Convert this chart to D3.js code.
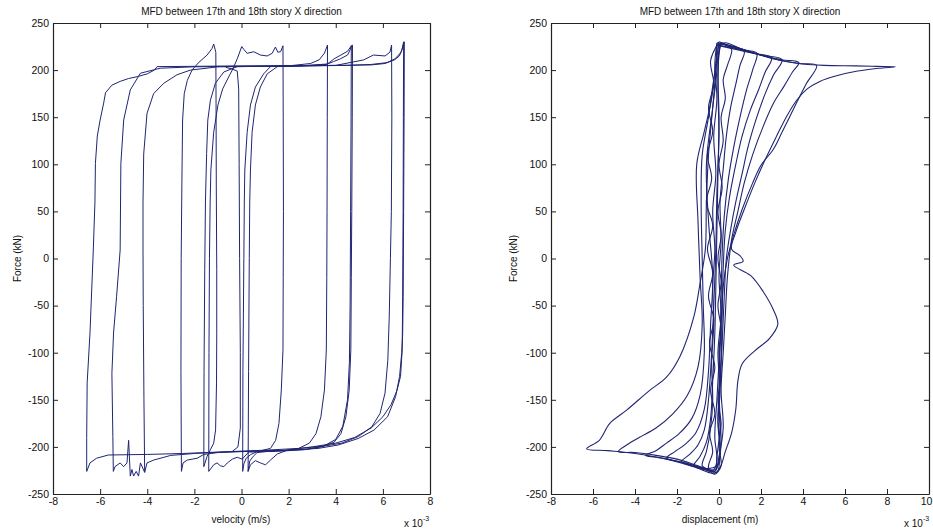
<!DOCTYPE html>
<html><head><meta charset="utf-8">
<script src="https://cdn.jsdelivr.net/npm/d3@7"></script>
<style>
body{margin:0;background:#fff}
text{font-family:"Liberation Sans",Arial,Helvetica,sans-serif;fill:#111}
</style>
</head><body>
<svg id="chart" width="933" height="531"></svg>
<script>
// ---------- text ----------
const titleText = "MFD between 17th and 18th story X direction";
const yLabelText = "Force (kN)";
const velLabelText = "velocity (m/s)";
const dispLabelText = "displacement (m)";
const multiplierBase = "x 10";
const multiplierExp = "-3";

// ---------- ticks ----------
const forceTicks = [-250, -200, -150, -100, -50, 0, 50, 100, 150, 200, 250];
const velTicks = [-8, -6, -4, -2, 0, 2, 4, 6, 8];
const dispTicks = [-8, -6, -4, -2, 0, 2, 4, 6, 8, 10];

// ---------- LEFT: force vs velocity (x 1e-3 m/s, kN) ----------
const velLoop1 = [[-1.0,-205.5],[-2.5,-207],[-4.0,-208],[-5.65,-208.6],[-6.15,-212],[-6.43,-217],[-6.57,-226],
 [-6.57,-190],[-6.55,-132],[-6.43,-79],[-6.29,9],[-6.22,60],[-6.2,101],[-6.12,130],[-6.0,147],[-5.85,165],[-5.77,176],[-5.5,184],[-5.15,188],[-4.8,191],[-4.43,193],[-4.0,196],[-3.7,200],[-3.58,203.7],[-2,204],[0,204.5],[2,204.5],[4,205],[5.5,205.5],[6.09,207],[6.52,212],[6.77,219],[6.88,228],[6.91,230],
 [6.9,150],[6.88,50],[6.86,-40],[6.84,-80],[6.8,-100],[6.71,-125],[6.54,-146.6],[6.2,-168],[5.63,-182],[4.96,-191],[4.1,-198],[3.25,-201.6],[2.0,-203.5],[0.5,-204.5],[-1.0,-205.5]];
const velLoop2 = [[-5.44,-226],[-5.46,-189],[-5.5,-122],[-5.43,-79],[-5.3,-40],[-5.15,9],[-5.12,101],[-5.0,147],[-4.72,179],[-4.29,196.7],[-3.45,202],[-2,203.5],[0,204],[2,204.5],[4,205],[5.18,210.8],[5.6,216],[6.09,215],[6.3,219],[6.37,226.6],
 [6.38,150],[6.36,50],[6.32,0],[6.27,-62],[6.21,-108],[6.09,-143],[5.88,-164.5],[5.53,-178.6],[4.96,-189],[4.25,-196],[3.54,-199],[2.5,-201.5],[1.0,-203.5],[-0.5,-205],[-2.0,-207],[-3.0,-209],[-3.73,-214],[-4.01,-217],[-4.11,-227],[-4.29,-217],[-4.37,-231],[-4.47,-226],[-4.58,-231],[-4.65,-224],[-4.72,-231],[-4.79,-193],[-4.86,-217],[-5.0,-221],[-5.15,-217],[-5.37,-221],[-5.44,-226]];
const velLoop3 = [[-4.11,-227],[-4.14,-150],[-4.17,-50],[-4.18,9],[-4.18,60],[-4.15,111],[-4.01,154],[-3.73,175],[-3.3,186],[-2.74,195],[-2.17,200],[-1,203.5],[1,204],[2.5,204.5],[3.65,206.5],[3.93,212],[4.22,216],[4.5,220],[4.64,225],[4.71,226.5],
 [4.7,150],[4.68,50],[4.66,-20],[4.64,-97],[4.57,-140],[4.43,-168],[4.22,-186],[3.93,-195],[3.37,-200],[2.65,-203],[1.5,-204],[0,-205],[-1.0,-206],[-1.6,-208],[-1.88,-212],[-2.3,-214],[-2.48,-217],[-2.55,-226]];
const velLoop4 = [[-2.55,-226],[-2.57,-120],[-2.56,0],[-2.53,80],[-2.5,147],[-2.43,175],[-2.3,189],[-2.1,200],[-1.82,208],[-1.46,216],[-1.25,223],[-1.18,227.7],[-1.09,219],[-1.08,164.7],[-1.07,76],[-1.05,-12],[-1.05,-80],[-1.06,-132],[-1.1,-182],[-1.18,-196],[-1.32,-203],[-1.46,-210],[-1.6,-221]];
const velLoop5 = [[-1.6,-221],[-1.59,-120],[-1.56,-12],[-1.53,60],[-1.48,111.6],[-1.43,147],[-1.32,168],[-1.11,186],[-0.75,198],[-0.18,203.7],[1,204],[2.0,204.5],[2.93,207],[3.3,211],[3.52,218],[3.65,226.6],
 [3.64,150],[3.63,50],[3.62,-20],[3.6,-97],[3.52,-139.5],[3.37,-168],[3.16,-186],[2.88,-196],[2.39,-202],[1.8,-204],[1.0,-205],[0.3,-205.5],[0.03,-213],[-0.18,-211],[-0.39,-213],[-0.6,-217],[-0.75,-221],[-0.9,-220],[-1.04,-217],[-1.18,-219],[-1.39,-226]];
const velLoop6 = [[-1.39,-226],[-1.38,-100],[-1.36,0],[-1.33,60],[-1.3,94],[-1.18,134],[-1.0,163],[-0.8,180],[-0.5,195],[-0.39,200],[-0.18,212],[0.01,225],[0.1,222],[0.24,217.8],[0.52,219.5],[0.8,216],[1.09,215],[1.3,217.8],[1.44,224.5],[1.54,219],[1.66,219.5],[1.76,225.8],
 [1.77,150],[1.78,50],[1.77,-20],[1.76,-97],[1.69,-139.5],[1.59,-175],[1.45,-193],[1.23,-201.6],[0.66,-205],[0.4,-208],[0.2,-212],[0.1,-218],[0.05,-226]];
const velLoop7 = [[0.05,-226],[0.06,-120],[0.1,0],[0.12,60],[0.14,94],[0.24,134],[0.38,163],[0.59,182],[0.94,196],[1.23,203.7],[2,204.5],[3.0,205],[3.6,206],[3.9,209],[4.2,212],[4.5,216],[4.62,222],[4.66,226],
 [4.65,150],[4.63,50],[4.61,-50],[4.58,-110],[4.5,-150],[4.3,-178],[4.0,-192],[3.5,-199],[2.8,-202.5],[2.0,-204],[1.0,-205],[0.66,-206],[0.5,-210],[0.35,-215],[0.28,-226]];
const velLoop8 = [[0.28,-226],[0.3,-120],[0.33,0],[0.35,60],[0.38,94],[0.45,134],[0.59,163],[0.8,182],[1.09,196],[1.52,203.7],[3,204.5],[4.5,205],[5.5,206],[6.2,208],[6.5,211],[6.7,215],[6.82,222],[6.88,230],
 [6.87,150],[6.86,50],[6.84,-40],[6.82,-97],[6.75,-125],[6.6,-140],[6.35,-155],[6.0,-168],[5.5,-180],[4.8,-190],[4.0,-196],[3.0,-200],[2.0,-203],[1.52,-207.5],[1.23,-214],[1.02,-219],[0.8,-217],[0.59,-214.6],[0.38,-219],[0.28,-226]];
const velLoop9 = [[-0.67,203],[-0.39,201],[-0.18,199],[-0.12,180],[-0.1,100],[-0.08,0],[-0.05,-100],[-0.05,-180],[-0.15,-200],[-0.4,-205]];
const velocityLoops = [velLoop1, velLoop2, velLoop3, velLoop4, velLoop5, velLoop6, velLoop7, velLoop8, velLoop9];

// ---------- RIGHT: force vs displacement (x 1e-3 m, kN) ----------
const dispLoop1 = [[-0.1,226],[0.3,229],[1,223],[2,216],[3,210],[4,206.5],[5,205],[6.5,204.5],[7.5,204],[8.4,203.5],[7.6,202],[6.6,199],[5.6,194],[4.8,188],[4.2,180],[3.7,168],[3.2,150],[2.7,128],[2.2,105],[1.7,80],[1.2,52],[0.8,28],[0.6,10],[1.0,3],[1.15,-3],[0.7,-7],[1.5,-18],[2.1,-35],[2.6,-55],[2.8,-70],[2.4,-85],[1.7,-98],[1.1,-112],[0.9,-130],[0.8,-160],[0.6,-185],[0.3,-205],[0.05,-222],[-0.2,-228],[-1.2,-221],[-2.5,-213],[-4,-207],[-5.3,-204],[-6.3,-202],[-5.7,-193],[-5.2,-175],[-4.4,-161],[-3.3,-140],[-2.5,-126],[-1.86,-104],[-1.2,-62],[-0.9,-26],[-0.65,10],[-0.6,60],[-0.5,110],[-0.3,160],[-0.15,200],[-0.1,226]];
const dispLoop2 = [[0,228],[0.8,224],[1.8,217],[2.8,211],[3.8,207],[4.65,205],[4.17,186],[3.8,170],[3.38,151],[3.0,134],[2.59,116],[2.0,99],[1.6,80],[1.1,52],[0.7,25],[0.4,0],[0.2,-30],[0.1,-70],[0.0,-110],[-0.1,-150],[-0.2,-190],[-0.1,-215],[-0.3,-225],[-1,-220],[-2,-213],[-3,-209],[-4,-206],[-4.8,-205],[-4.4,-198],[-3.8,-190],[-3.0,-180],[-2.2,-165],[-1.5,-145],[-1.0,-115],[-0.8,-70],[-0.9,-20],[-1.0,40],[-1.06,100],[-0.7,135],[-0.35,170],[-0.15,208],[0,228]];
const dispLoop3 = [[0.1,229],[1,223],[2,216],[3,211],[3.8,208],[3.5,198],[3.1,183],[2.6,165],[2.1,140],[1.6,110],[1.2,80],[0.9,50],[0.6,20],[0.4,-20],[0.3,-60],[0.2,-100],[0.1,-140],[0.2,-180],[0.0,-210],[-0.2,-226],[-1,-221],[-2,-215],[-3,-211],[-3.5,-209],[-3.0,-204],[-2.5,-196],[-1.9,-186],[-1.3,-170],[-0.9,-145],[-0.7,-100],[-0.75,-50],[-0.8,0],[-0.85,60],[-0.8,110],[-0.5,150],[-0.25,190],[0.1,229]];
const dispLoop4 = [[-0.1,227],[1,222],[2,216],[3,211],[2.6,195],[2.2,175],[1.8,150],[1.4,120],[1.1,90],[0.8,60],[0.55,30],[0.35,0],[0.25,-40],[0.15,-90],[0.05,-130],[-0.05,-170],[0.05,-200],[-0.15,-224],[-0.8,-222],[-1.6,-217],[-2.5,-212],[-2.1,-205],[-1.6,-197],[-1.1,-185],[-0.7,-160],[-0.5,-120],[-0.4,-70],[-0.3,-20],[-0.5,40],[-0.6,100],[-0.3,160],[-0.1,200],[-0.1,227]];
const dispLoop5 = [[0,226],[0.8,222],[1.6,218],[2.5,213],[2.2,198],[1.9,180],[1.5,158],[1.1,130],[0.8,100],[0.5,65],[0.3,30],[0.2,-10],[0.15,-60],[0.1,-110],[0.0,-160],[0.1,-195],[-0.1,-220],[-0.6,-223],[-1.2,-220],[-1.8,-216],[-1.4,-208],[-1.0,-198],[-0.7,-182],[-0.5,-150],[-0.35,-100],[-0.25,-50],[-0.15,10],[-0.1,70],[0.0,130],[-0.05,180],[0,226]];
const dispLoop6 = [[0.05,228],[0.7,225],[1.3,221],[1.8,218],[1.6,200],[1.3,178],[1.0,150],[0.7,118],[0.45,85],[0.25,45],[0.15,5],[0.1,-45],[0.05,-95],[0.0,-140],[0.05,-180],[-0.1,-210],[-0.2,-226],[-0.7,-224],[-1.2,-220],[-0.9,-210],[-0.6,-195],[-0.4,-170],[-0.3,-130],[-0.2,-80],[-0.15,-30],[-0.1,30],[-0.05,90],[0.0,150],[-0.05,200],[0.05,228]];
const dispLoop7 = [[-0.1,229],[0.4,226],[0.8,223],[1.2,220],[1.0,205],[0.8,185],[0.55,160],[0.35,130],[0.2,95],[0.05,60],[0.1,20],[0.0,-20],[0.1,-60],[-0.05,-100],[0.05,-140],[-0.05,-175],[0.05,-205],[-0.1,-227],[-0.5,-224],[-0.8,-220],[-0.6,-205],[-0.4,-180],[-0.3,-150],[-0.35,-110],[-0.25,-70],[-0.3,-30],[-0.2,10],[-0.3,50],[-0.15,90],[-0.25,130],[-0.1,170],[-0.2,205],[-0.1,229]];
const dispLoop8 = [[0,230],[0.3,227],[0.6,222],[0.4,205],[0.2,190],[0.3,170],[0.1,150],[0.2,125],[0.0,100],[0.15,75],[-0.05,50],[0.1,25],[-0.05,0],[0.1,-25],[-0.05,-50],[0.1,-75],[0.0,-100],[0.1,-125],[-0.05,-150],[0.1,-175],[0.0,-200],[0.1,-220],[-0.2,-229],[-0.5,-222],[-0.3,-205],[-0.45,-185],[-0.2,-165],[-0.4,-140],[-0.2,-115],[-0.45,-90],[-0.25,-65],[-0.5,-40],[-0.3,-15],[-0.55,10],[-0.3,35],[-0.6,60],[-0.35,85],[-0.55,110],[-0.3,135],[-0.5,160],[-0.25,185],[-0.4,210],[0,230]];
const displacementLoops = [dispLoop1, dispLoop2, dispLoop3, dispLoop4, dispLoop5, dispLoop6, dispLoop7, dispLoop8];

// ---------- drawing ----------
const svg = d3.select("#chart");
const lineColor = "#1f2572";

function drawPanel(opts) {
  const g = svg.append("g");
  const x = d3.scaleLinear().domain(opts.xDomain).range([opts.left, opts.right]);
  const y = d3.scaleLinear().domain([-250, 250]).range([opts.bottom, opts.top]);

  const clipId = "clip" + opts.id;
  svg.append("clipPath").attr("id", clipId).append("rect")
    .attr("x", opts.left).attr("y", opts.top)
    .attr("width", opts.right - opts.left).attr("height", opts.bottom - opts.top);
  const line = d3.line().x(d => x(d[0])).y(d => y(d[1])).curve(opts.curve);
  g.append("g").attr("clip-path", `url(#${clipId})`)
    .selectAll("path").data(opts.series).join("path")
    .attr("d", line).attr("fill", "none")
    .attr("stroke", lineColor).attr("stroke-width", opts.sw)
    .attr("stroke-linejoin", "round");

  const fmt = d => String(d);
  const axB = d3.axisBottom(x).tickValues(opts.xTicks).tickSize(-5).tickSizeOuter(0).tickPadding(4).tickFormat(fmt);
  const axT = d3.axisTop(x).tickValues(opts.xTicks).tickSize(-5).tickSizeOuter(0).tickFormat("");
  const axL = d3.axisLeft(y).tickValues(forceTicks).tickSize(-5).tickSizeOuter(0).tickPadding(4).tickFormat(fmt);
  const axR = d3.axisRight(y).tickValues(forceTicks).tickSize(-5).tickSizeOuter(0).tickFormat("");

  const styleAxis = sel => {
    sel.selectAll("path.domain").attr("stroke", "#222").attr("stroke-width", 1.2);
    sel.selectAll(".tick line").attr("stroke", "#222");
    sel.selectAll(".tick text").attr("fill", "#111").style("font-size", "10.5px")
      .style("font-family", "'Liberation Sans', Arial, sans-serif");
  };
  const bottomAxis = g.append("g").attr("transform", `translate(0,${opts.bottom})`).call(axB).call(styleAxis);
  // keep the last tick label inside the 933px page
  bottomAxis.selectAll(".tick text").filter(d => x(d) > 925).attr("dx", -3);
  g.append("g").attr("transform", `translate(0,${opts.top})`).call(axT).call(styleAxis);
  g.append("g").attr("transform", `translate(${opts.left},0)`).call(axL).call(styleAxis);
  g.append("g").attr("transform", `translate(${opts.right},0)`).call(axR).call(styleAxis);

  g.append("text").attr("x", (opts.left + opts.right) / 2).attr("y", 15)
    .attr("text-anchor", "middle").style("font-size", "10px").text(titleText);
  g.append("text").attr("x", opts.xLabelX).attr("y", 523)
    .attr("text-anchor", "middle").style("font-size", "10px").text(opts.xLabel);
  const m = g.append("text").attr("x", opts.multX).attr("y", 527).style("font-size", "10px");
  m.append("tspan").text(multiplierBase);
  m.append("tspan").attr("dy", -6).style("font-size", "7px").text(multiplierExp);
  g.append("text").attr("transform", `translate(${opts.yLabelX},${(opts.top + opts.bottom) / 2}) rotate(-90)`)
    .attr("text-anchor", "middle").style("font-size", "10px").text(yLabelText);
}

drawPanel({id: "v", xDomain: [-8, 8], xTicks: velTicks, left: 53, right: 430, top: 23, bottom: 494,
  series: velocityLoops, curve: d3.curveLinear, sw: 1,
  xLabel: velLabelText, xLabelX: 241, multX: 404, yLabelX: 21});
drawPanel({id: "d", xDomain: [-8, 10], xTicks: dispTicks, left: 551, right: 929, top: 23, bottom: 494,
  series: displacementLoops, curve: d3.curveCatmullRom.alpha(0.5), sw: 1.1,
  xLabel: dispLabelText, xLabelX: 720, multX: 904, yLabelX: 517});
</script>
</body></html>
